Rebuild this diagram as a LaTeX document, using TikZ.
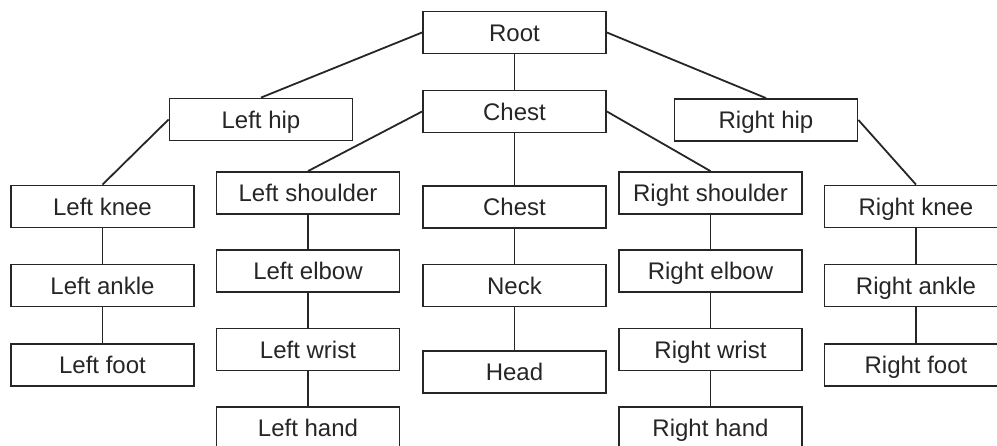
\documentclass[tikz,border=0pt]{standalone}
\usepackage{fontspec}
\setmainfont{Liberation Sans}
\usetikzlibrary{positioning}

\begin{document}
\begin{tikzpicture}[x=1pt,y=-1pt]

    \tikzset{
      joint/.style={
        draw=black!85,
        line width=1.8pt,
        fill=white,
        rectangle,
        inner sep=0pt,
        minimum width=183pt,
        minimum height=42pt,
        text height=17.2pt,
        text depth=0pt,
        text=black!85,
        font=\fontsize{24}{28}\selectfont,
      },
      bone/.style={
        draw=black!85,
        line width=1.8pt,
      },
    }
    \useasboundingbox (0,0) rectangle (997,446);
	\node[joint] (root) at (514.5,32.5) {Root};
	\node[joint] (spine) at (514.5,111.5) {Chest};
	\node[joint] (lhip) at (261,119.5) {Left hip};
	\node[joint] (rhip) at (766,120) {Right hip};
	\node[joint] (lknee) at (102.5,206.5) {Left knee};
	\node[joint] (lankle) at (102.5,285.5) {Left ankle};
	\node[joint] (lfoot) at (102.5,365) {Left foot};
	\node[joint] (lshoulder) at (308,193) {Left shoulder};
	\node[joint] (lelbow) at (308,271) {Left elbow};
	\node[joint] (lwrist) at (308,349.5) {Left wrist};
	\node[joint] (lhand) at (308,428) {Left hand};
	\node[joint] (chest) at (514.5,207) {Chest};
	\node[joint] (neck) at (514.5,285.5) {Neck};
	\node[joint] (head) at (514.5,372) {Head};
	\node[joint] (rshoulder) at (710.5,193) {Right shoulder};
	\node[joint] (relbow) at (710.5,271) {Right elbow};
	\node[joint] (rwrist) at (710.5,349.5) {Right wrist};
	\node[joint] (rhand) at (710.5,428) {Right hand};
	\node[joint] (rknee) at (916,206.5) {Right knee};
	\node[joint] (rankle) at (916,285.5) {Right ankle};
	\node[joint] (rfoot) at (916,365) {Right foot};
	\draw[bone] (root.west)--(lhip.north);
	\draw[bone] (root.east)--(rhip.north);
	\draw[bone] (root.south)--(spine.north);
	\draw[bone] (spine.west)--(lshoulder.north);
	\draw[bone] (spine.east)--(rshoulder.north);
	\draw[bone] (spine.south)--(chest.north);
	\draw[bone] (lhip.west)--(lknee.north);
	\draw[bone] (rhip.east)--(rknee.north);
	\draw[bone] (lknee)--(lankle) (lankle)--(lfoot);
	\draw[bone] (lshoulder)--(lelbow) (lelbow)--(lwrist) (lwrist)--(lhand);
	\draw[bone] (chest)--(neck) (neck)--(head);
	\draw[bone] (rshoulder)--(relbow) (relbow)--(rwrist) (rwrist)--(rhand);
	\draw[bone] (rknee)--(rankle) (rankle)--(rfoot);

\end{tikzpicture}
\end{document}
